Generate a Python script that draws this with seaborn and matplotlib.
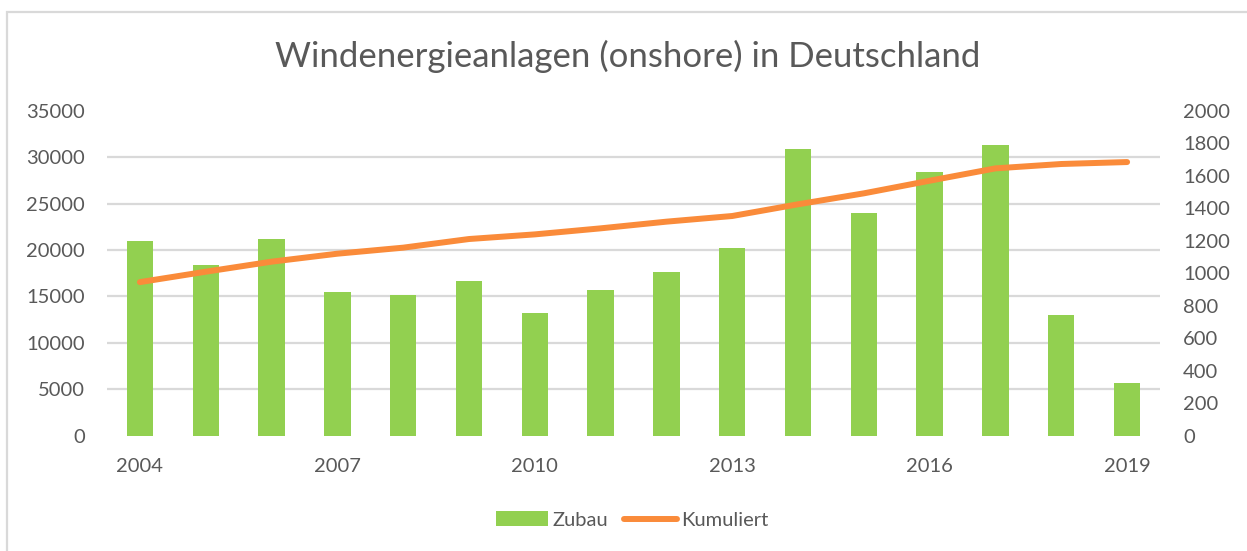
import numpy as np
import pandas as pd
import matplotlib
matplotlib.use("Agg")
import matplotlib.pyplot as plt
from matplotlib.patches import Patch, Rectangle
from matplotlib.lines import Line2D
import seaborn as sns

# ---- data ----
years = [2004, 2005, 2006, 2007, 2008, 2009, 2010, 2011,
         2012, 2013, 2014, 2015, 2016, 2017, 2018, 2019]
zubau = [1201, 1049, 1208, 883, 866, 952, 754, 895,
         1005, 1154, 1766, 1368, 1624, 1792, 743, 325]
kumuliert = [16540, 17660, 18740, 19600, 20250, 21180, 21680, 22330,
             23050, 23660, 24920, 26100, 27460, 28790, 29260, 29470]
x_tick_years = [2004, 2007, 2010, 2013, 2016, 2019]
left_ticks = [0, 5000, 10000, 15000, 20000, 25000, 30000, 35000]
right_ticks = [0, 200, 400, 600, 800, 1000, 1200, 1400, 1600, 1800, 2000]
title = "Windenergieanlagen (onshore) in Deutschland"
series_names = ["Zubau", "Kumuliert"]

df = pd.DataFrame({"Jahr": years, "Zubau": zubau, "Kumuliert": kumuliert})

sns.set_theme(style="white")
plt.rcParams["font.family"] = ["Lato", "DejaVu Sans"]

GREEN = "#92D050"
ORANGE = "#FA8B3A"
GRID = "#D9D9D9"
TXT = "#595959"
FS = 14.5

W, H = 1247, 551
fig = plt.figure(figsize=(W / 100, H / 100), dpi=100)
fig.patch.set_facecolor("white")

# outer chart border (left and top visible)
fig.add_artist(Rectangle((7 / W, -0.2), 1.2, 1.2 - 12 / H,
                         transform=fig.transFigure, fill=False,
                         edgecolor=GRID, linewidth=1.6))

left, right = 107 / W, 1160 / W
bottom, top = 1 - 435.7 / H, 1 - 110.7 / H
ax_l = fig.add_axes([left, bottom, right - left, top - bottom])
ax_r = ax_l.twinx()

# bars on the right axis (drawn below)
ax_r.set_zorder(0)
ax_l.set_zorder(1)
ax_l.patch.set_visible(False)

sns.barplot(data=df, x="Jahr", y="Zubau", ax=ax_r, color=GREEN,
            native_scale=True, width=0.4, saturation=1, linewidth=0,
            errorbar=None)
ax_r.set_ylim(0, 2000)
ax_r.set_yticks(right_ticks)
# gridlines aligned with the left axis ticks, below the bars
ax_r.set_yticks([v * 2000 / 35000 for v in left_ticks], minor=True)
ax_r.set_axisbelow(True)
ax_r.grid(which="minor", axis="y", color=GRID, linewidth=1.6)
ax_r.grid(which="major", visible=False)
ax_r.tick_params(axis="y", which="both", length=0, pad=16.5,
                 labelsize=FS, labelcolor=TXT)
ax_r.set_ylabel("")
ax_r.set_xlabel("")

sns.lineplot(data=df, x="Jahr", y="Kumuliert", ax=ax_l, color=ORANGE,
             linewidth=4.3, solid_capstyle="round")
ax_l.set_ylim(0, 35000)
ax_l.set_yticks(left_ticks)
ax_l.grid(False)
ax_l.tick_params(axis="y", length=0, pad=16, labelsize=FS, labelcolor=TXT)
ax_l.set_xlim(2003.5, 2019.5)
ax_l.set_xticks(x_tick_years)
ax_l.set_xticklabels([str(y) for y in x_tick_years])
ax_l.tick_params(axis="x", length=0, pad=16, labelsize=FS, labelcolor=TXT)
ax_l.set_xlabel("")
ax_l.set_ylabel("")
ax_r.set_xlim(2003.5, 2019.5)

for a in (ax_l, ax_r):
    for s in a.spines.values():
        s.set_visible(False)

fig.text(628 / W, 1 - 56 / H, title, ha="center", va="center",
         fontsize=25, color=TXT)

handles = [Patch(facecolor=GREEN, edgecolor="none"),
           Line2D([0], [0], color=ORANGE, linewidth=4.3, solid_capstyle="round")]
leg = fig.legend(handles, series_names, loc="center",
                 bbox_to_anchor=(632 / W, 1 - 520 / H), ncol=2, frameon=False,
                 fontsize=FS, handlelength=2.6, handletextpad=0.2,
                 columnspacing=0.8, labelcolor=TXT)

fig.savefig("out.png", dpi=100, facecolor="white")
